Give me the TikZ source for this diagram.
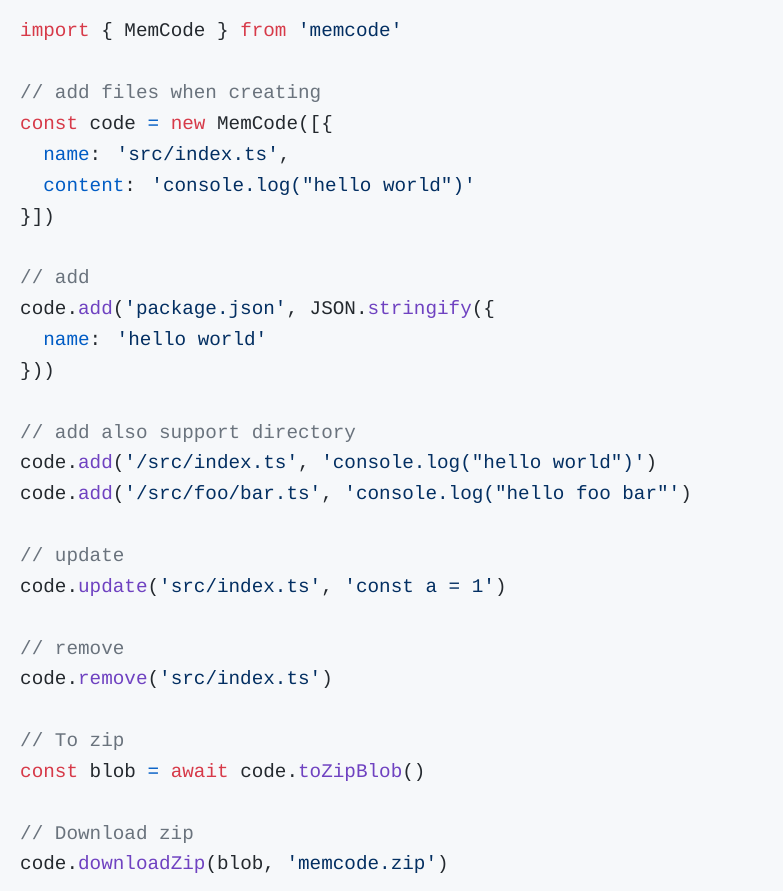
\documentclass[tikz,border=0pt]{standalone}
\usepackage{fontspec}
\newfontfamily\codefont{Liberation Mono}
\definecolor{bg}{HTML}{F6F8FA}
\definecolor{kwc}{HTML}{D73A49}
\definecolor{stc}{HTML}{032F62}
\definecolor{fnc}{HTML}{6F42C1}
\definecolor{cmc}{HTML}{6A737D}
\definecolor{prc}{HTML}{005CC5}
\definecolor{txc}{HTML}{24292E}
\newcommand\sq{\char39\relax}
\newcommand\dq{\char34\relax}
\newcommand\kw[1]{{\color{kwc}#1}}
\newcommand\st[1]{{\color{stc}#1}}
\newcommand\fn[1]{{\color{fnc}#1}}
\newcommand\cm[1]{{\color{cmc}#1}}
\newcommand\pr[1]{{\color{prc}#1}}
\begin{document}
\begin{tikzpicture}[x=1pt,y=1pt,
  codeline/.style={anchor=base west,inner sep=0pt,text=txc,font=\codefont\fontsize{19.3}{20}\selectfont}]
\useasboundingbox (0,0) rectangle (783,-891);
\fill[bg] (0,0) rectangle (783,-891);
\def\dy{30.85}
\node[codeline] (l1) at (20,{-37-0*\dy}) {\kw{import} \{ MemCode \} \kw{from} \st{\sq memcode\sq}};
\node[codeline] (l3) at (20,{-37-2*\dy}) {\cm{// add files when creating}};
\node[codeline] (l4) at (20,{-37-3*\dy}) {\kw{const} code \pr{=} \kw{new} MemCode([\{};
\node[codeline] (l5) at (20,{-37-4*\dy}) {\ \ \pr{name}: \st{\sq src/index.ts\sq},};
\node[codeline] (l6) at (20,{-37-5*\dy}) {\ \ \pr{content}: \st{\sq console.log(\dq hello world\dq)\sq}};
\node[codeline] (l7) at (20,{-37-6*\dy}) {\}])};
\node[codeline] (l9) at (20,{-37-8*\dy}) {\cm{// add}};
\node[codeline] (l10) at (20,{-37-9*\dy}) {code.\fn{add}(\st{\sq package.json\sq}, JSON.\fn{stringify}(\{};
\node[codeline] (l11) at (20,{-37-10*\dy}) {\ \ \pr{name}: \st{\sq hello world\sq}};
\node[codeline] (l12) at (20,{-37-11*\dy}) {\}))};
\node[codeline] (l14) at (20,{-37-13*\dy}) {\cm{// add also support directory}};
\node[codeline] (l15) at (20,{-37-14*\dy}) {code.\fn{add}(\st{\sq/src/index.ts\sq}, \st{\sq console.log(\dq hello world\dq)\sq})};
\node[codeline] (l16) at (20,{-37-15*\dy}) {code.\fn{add}(\st{\sq/src/foo/bar.ts\sq}, \st{\sq console.log(\dq hello foo bar\dq\sq})};
\node[codeline] (l18) at (20,{-37-17*\dy}) {\cm{// update}};
\node[codeline] (l19) at (20,{-37-18*\dy}) {code.\fn{update}(\st{\sq src/index.ts\sq}, \st{\sq const a = 1\sq})};
\node[codeline] (l21) at (20,{-37-20*\dy}) {\cm{// remove}};
\node[codeline] (l22) at (20,{-37-21*\dy}) {code.\fn{remove}(\st{\sq src/index.ts\sq})};
\node[codeline] (l24) at (20,{-37-23*\dy}) {\cm{// To zip}};
\node[codeline] (l25) at (20,{-37-24*\dy}) {\kw{const} blob \pr{=} \kw{await} code.\fn{toZipBlob}()};
\node[codeline] (l27) at (20,{-37-26*\dy}) {\cm{// Download zip}};
\node[codeline] (l28) at (20,{-37-27*\dy}) {code.\fn{downloadZip}(blob, \st{\sq memcode.zip\sq})};
\end{tikzpicture}
\end{document}
